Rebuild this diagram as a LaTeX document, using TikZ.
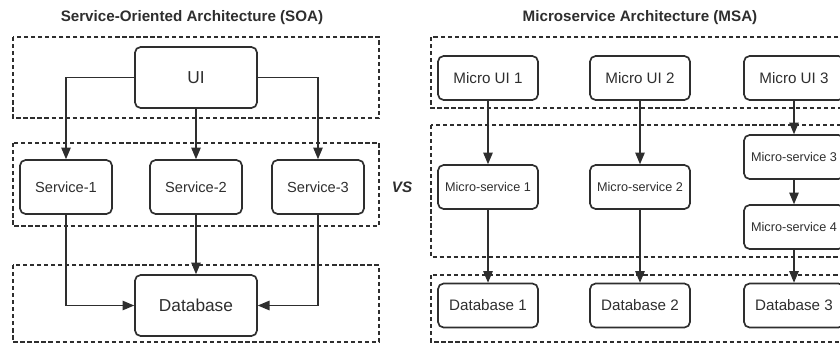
\documentclass[tikz,border=0pt]{standalone}
\usepackage{fontspec}
\setmainfont{Liberation Sans}
\usetikzlibrary{arrows}

\definecolor{ink}{HTML}{2E2E2E}

\tikzset{
  comp/.style={draw=ink, line width=1.2pt, rounded corners=4pt, text=ink, inner sep=0pt},
  bigbox/.style={comp, minimum width=3.05cm, minimum height=1.525cm, font=\fontsize{12.3}{14}\selectfont},
  svcbox/.style={comp, minimum width=2.3cm, minimum height=1.35cm, font=\fontsize{10.4}{12}\selectfont},
  microbox/.style={comp, minimum width=2.5cm, minimum height=1.1cm, font=\fontsize{10.8}{12}\selectfont},
  msbox/.style={microbox, font=\fontsize{9}{11}\selectfont},
  layer/.style={draw=ink, line width=1.1pt, dash pattern=on 3pt off 2pt},
  link/.style={->, draw=ink, line width=0.9pt},
  heading/.style={text=ink, font=\bfseries\fontsize{10.8}{13}\selectfont}
}

\begin{document}
\begin{tikzpicture}[x=0.025cm, y=-0.025cm, >=triangle 45]
\useasboundingbox (0,0) rectangle (840,344);
\clip (0,0) rectangle (840,344);

% titles
\node [heading] (soa) at (192,18) {Service-Oriented Architecture (SOA)};
\node [heading] (msa) at (640,18) {Microservice Architecture (MSA)};
\node [text=ink, font=\bfseries\itshape\fontsize{10.8}{13}\selectfont] (vs) at (402,187) {VS};

% SOA layers
\draw [layer] (13,37) rectangle (379,118);
\draw [layer] (13,143) rectangle (379,226);
\draw [layer] (13,265) rectangle (379,342);

% MSA layers
\draw [layer] (431,37) rectangle (852,108);
\draw [layer] (431,125) rectangle (852,257);
\draw [layer] (431,275) rectangle (852,342);

% SOA components
\node [bigbox] (ui) at (196,77.5) {UI};
\node [svcbox] (svcA) at (66,187) {Service-1};
\node [svcbox] (svcB) at (196,187) {Service-2};
\node [svcbox] (svcC) at (318,187) {Service-3};
\node [bigbox] (db) at (196,305.5) {Database};

\draw [link] (ui.west) -| (svcA.north);
\draw [link] (ui.south) -- (svcB.north);
\draw [link] (ui.east) -| (svcC.north);
\draw [link] (svcA.south) |- (db.west);
\draw [link] (svcB.south) -- (db.north);
\draw [link] (svcC.south) |- (db.east);

% MSA components
\node [microbox] (muiA) at (488,78) {Micro UI 1};
\node [microbox] (muiB) at (640,78) {Micro UI 2};
\node [microbox] (muiC) at (794,78) {Micro UI 3};
\node [msbox] (msA) at (488,187) {Micro-service 1};
\node [msbox] (msB) at (640,187) {Micro-service 2};
\node [msbox] (msC) at (794,157) {Micro-service 3};
\node [msbox] (msD) at (794,227) {Micro-service 4};
\node [microbox] (dbA) at (488,305.5) {Database 1};
\node [microbox] (dbB) at (640,305.5) {Database 2};
\node [microbox] (dbC) at (794,305.5) {Database 3};

\draw [link] (muiA) -- (msA);
\draw [link] (msA) -- (dbA);
\draw [link] (muiB) -- (msB);
\draw [link] (msB) -- (dbB);
\draw [link] (muiC) -- (msC);
\draw [link] (msC) -- (msD);
\draw [link] (msD) -- (dbC);
\end{tikzpicture}
\end{document}
